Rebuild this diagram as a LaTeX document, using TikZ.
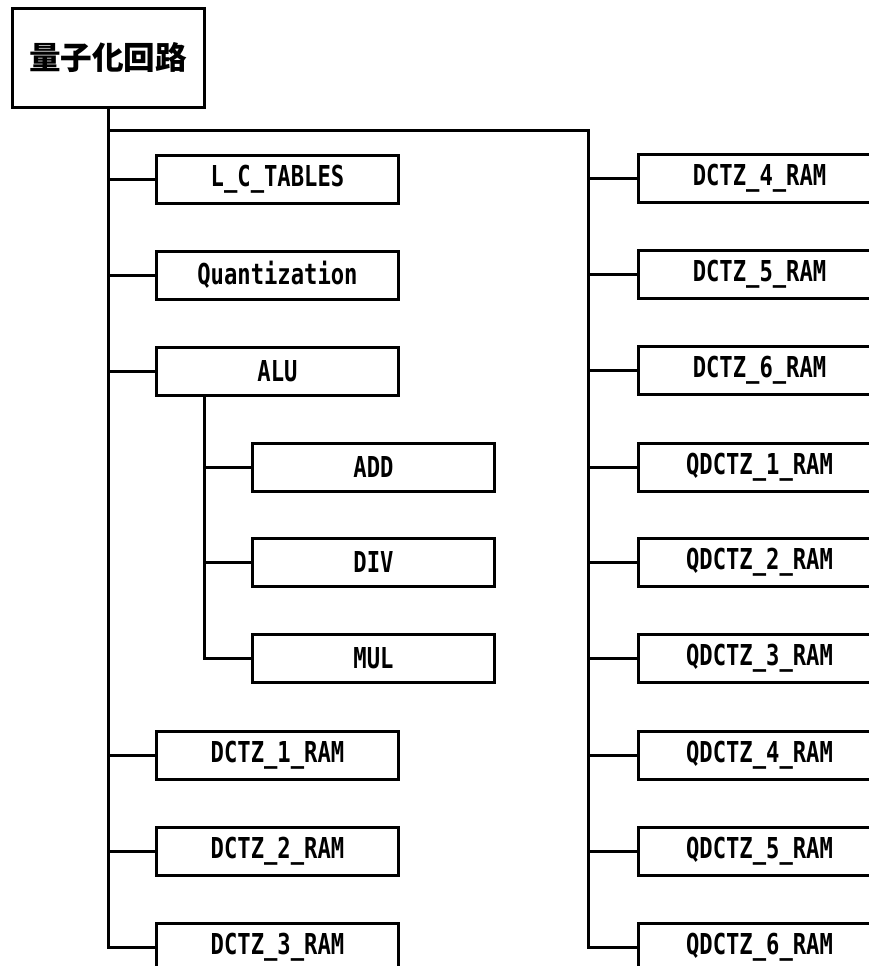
\documentclass[tikz,border=0pt]{standalone}
\usepackage{fontspec}
\newfontfamily\cjk{Noto Sans CJK JP}
\newfontfamily\gmono[FakeStretch=0.77]{DejaVu Sans Mono}
\begin{document}
\begin{tikzpicture}[x=1pt,y=-1pt,line width=3pt,line join=miter,
  modbox/.style={draw,rectangle,minimum width=242pt,minimum height=48pt,inner sep=0pt,anchor=west,
    font=\gmono\bfseries\fontsize{28.8}{30}\selectfont},
  rootbox/.style={draw,rectangle,minimum width=192pt,minimum height=98pt,inner sep=0pt,
    font=\cjk\bfseries\fontsize{31.6}{34}\selectfont}]
\clip (0,0) rectangle (869,966);
\fill[white] (0,0) rectangle (869,966);
\node[rootbox] (root) at (108,58) {\raisebox{-3pt}{量子化回路}};
% left column
\node[modbox] (lc) at (155,179) {L\_C\_TABLES};
\node[modbox] (qu) at (155,275) {Quantization};
\node[modbox] (alu) at (155,371) {ALU};
\node[modbox] (add) at (251,467) {ADD};
\node[modbox] (div) at (251,562) {DIV};
\node[modbox] (mul) at (251,658) {MUL};
\node[modbox] (d1) at (155,755) {DCTZ\_1\_RAM};
\node[modbox] (d2) at (155,851) {DCTZ\_2\_RAM};
\node[modbox] (d3) at (155,947) {DCTZ\_3\_RAM};
% right column
\node[modbox] (d4) at (637,178) {DCTZ\_4\_RAM};
\node[modbox] (d5) at (637,274) {DCTZ\_5\_RAM};
\node[modbox] (d6) at (637,370) {DCTZ\_6\_RAM};
\node[modbox] (q1) at (637,467) {QDCTZ\_1\_RAM};
\node[modbox] (q2) at (637,562) {QDCTZ\_2\_RAM};
\node[modbox] (q3) at (637,658) {QDCTZ\_3\_RAM};
\node[modbox] (q4) at (637,755) {QDCTZ\_4\_RAM};
\node[modbox] (q5) at (637,851) {QDCTZ\_5\_RAM};
\node[modbox] (q6) at (637,947) {QDCTZ\_6\_RAM};
% connectors
\coordinate (rt) at (588,130);
\coordinate (at) at (204,0);
\draw (root.south) -- (root.south |- d3.west) -- (d3.west);
\foreach \n in {lc,qu,alu,d1,d2} \draw (root.south |- \n.west) -- (\n.west);
\draw (root.south |- rt) -- (rt) -- (rt |- q6.west) -- (q6.west);
\foreach \n in {d4,d5,d6,q1,q2,q3,q4,q5} \draw (rt |- \n.west) -- (\n.west);
\draw (at |- alu.south) -- (at |- mul.west) -- (mul.west);
\foreach \n in {add,div} \draw (at |- \n.west) -- (\n.west);
\end{tikzpicture}
\end{document}
